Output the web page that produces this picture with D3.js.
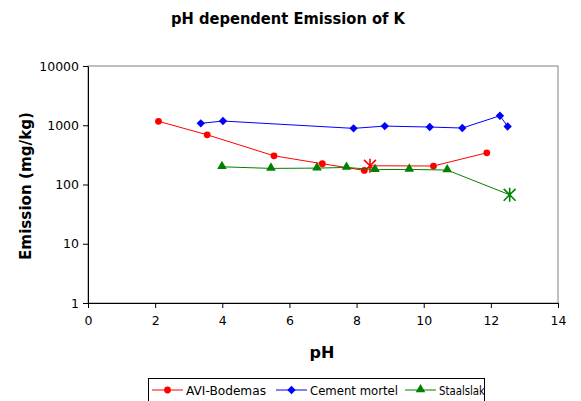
<!DOCTYPE html>
<html>
<head>
<meta charset="utf-8">
<script src="https://cdn.jsdelivr.net/npm/d3@7"></script>
<style>
  body { margin: 0; background: #fff; }
  svg { display: block; font-family: "DejaVu Sans", Verdana, sans-serif; }
</style>
</head>
<body>
<svg id="chart" width="581" height="401"></svg>
<script>
// values
var aviPH = [2.1, 3.55, 5.54, 6.98, 8.23, 8.4, 10.29, 11.88];
var aviEm = [1164, 690, 305, 224, 173, 207, 205, 343];
var cemPH = [3.36, 4.02, 7.91, 8.84, 10.18, 11.15, 12.27, 12.5];
var cemEm = [1077, 1178, 886, 968, 933, 898, 1446, 955];
var staPH = [3.99, 5.45, 6.82, 7.7, 8.55, 9.57, 10.7, 12.56];
var staEm = [199, 187, 189, 194, 178, 180, 175, 67];
// index of the point drawn with an asterisk marker
var aviStar = 5;
var staStar = 7;

var xTicks = [0, 2, 4, 6, 8, 10, 12, 14];
var yTicks = [1, 10, 100, 1000, 10000];

var series = [
  { name: 'AVI-Bodemas', colour: '#ff0000', marker: 'circle', x: aviPH, y: aviEm, star: aviStar },
  { name: 'Cement mortel', colour: '#0000ff', marker: 'diamond', x: cemPH, y: cemEm, star: -1 },
  { name: 'Staalslak', colour: '#008000', marker: 'triangle', x: staPH, y: staEm, star: staStar }
];

var svg = d3.select('#chart');

var plotL = 88, plotR = 558, plotT = 66, plotB = 303;

var x = d3.scaleLinear().domain([0, 14]).range([plotL, plotR]);
var y = d3.scaleLog().domain([1, 10000]).range([plotB, plotT]);

// title
svg.append('text')
  .attr('x', 288)
  .attr('y', 23.5)
  .attr('text-anchor', 'middle')
  .attr('textLength', 234)
  .attr('lengthAdjust', 'spacingAndGlyphs')
  .style('font-size', '15px')
  .style('font-weight', 'bold')
  .text('pH dependent Emission of K');

// plot area border (grey top and right)
svg.append('rect')
  .attr('x', plotL)
  .attr('y', plotT)
  .attr('width', plotR - plotL)
  .attr('height', plotB - plotT)
  .style('fill', 'none')
  .style('stroke', '#808080')
  .style('stroke-width', 1);

var xAxis = svg.append('g')
  .attr('transform', 'translate(0,' + plotB + ')')
  .call(d3.axisBottom(x).tickValues(xTicks).tickSize(5).tickSizeOuter(0).tickPadding(8));

var yAxis = svg.append('g')
  .attr('transform', 'translate(' + plotL + ',0)')
  .call(d3.axisLeft(y).tickValues(yTicks).tickFormat(d3.format('d')).tickSize(5).tickSizeOuter(0).tickPadding(4));

[xAxis, yAxis].forEach(function(a) {
  a.selectAll('text').style('font-size', '12.5px').style('font-family', '"DejaVu Sans", Verdana, sans-serif').style('fill', '#000');
  a.selectAll('line').style('stroke', '#000');
  a.select('.domain').style('stroke', '#000');
});

// axis titles
svg.append('text')
  .attr('x', 322)
  .attr('y', 358)
  .attr('text-anchor', 'middle')
  .style('font-size', '16px')
  .style('font-weight', 'bold')
  .text('pH');

svg.append('text')
  .attr('transform', 'translate(31,186) rotate(-90)')
  .attr('text-anchor', 'middle')
  .attr('textLength', 148)
  .attr('lengthAdjust', 'spacingAndGlyphs')
  .style('font-size', '15.5px')
  .style('font-weight', 'bold')
  .text('Emission (mg/kg)');

var line = d3.line()
  .x(function(d) { return x(d[0]); })
  .y(function(d) { return y(d[1]); });

function drawMarker(g, type, cx, cy, colour) {
  if (type === 'circle') {
    g.append('circle').attr('cx', cx).attr('cy', cy).attr('r', 3.4).style('fill', colour);
  } else if (type === 'diamond') {
    var h = 4.2;
    g.append('path')
      .attr('d', 'M' + cx + ',' + (cy - h) + 'L' + (cx + h) + ',' + cy + 'L' + cx + ',' + (cy + h) + 'L' + (cx - h) + ',' + cy + 'Z')
      .style('fill', colour);
  } else if (type === 'triangle') {
    g.append('path').attr('d', d3.symbol().type(d3.symbolTriangle).size(40)())
      .attr('transform', 'translate(' + cx + ',' + (cy - 0.5) + ')').style('fill', colour);
  } else if (type === 'star') {
    var r = 7;
    var s = r * 0.85;
    g.append('path')
      .attr('d', 'M' + (cx - s) + ',' + (cy - s) + 'L' + (cx + s) + ',' + (cy + s) +
        'M' + (cx + s) + ',' + (cy - s) + 'L' + (cx - s) + ',' + (cy + s) +
        'M' + cx + ',' + (cy - r) + 'L' + cx + ',' + (cy + r))
      .style('stroke', colour)
      .style('stroke-width', 1.6)
      .style('fill', 'none');
  }
}

series.forEach(function(s) {
  var pts = s.x.map(function(v, i) { return [v, s.y[i]]; });
  var g = svg.append('g');
  g.append('path')
    .attr('d', line(pts))
    .style('fill', 'none')
    .style('stroke', s.colour)
    .style('stroke-width', 1);
  pts.forEach(function(p, i) {
    drawMarker(g, i === s.star ? 'star' : s.marker, x(p[0]), y(p[1]), s.colour);
  });
});

// legend
var legend = svg.append('g');
legend.append('rect')
  .attr('x', 148.5)
  .attr('y', 378.5)
  .attr('width', 336)
  .attr('height', 24)
  .style('fill', '#fff')
  .style('stroke', '#000')
  .style('stroke-width', 1);

var legendX = [152, 276, 405];
var legendW = [80, 88, 46];
series.forEach(function(s, i) {
  var lx = legendX[i], ly = 390;
  legend.append('line')
    .attr('x1', lx).attr('x2', lx + 31)
    .attr('y1', ly).attr('y2', ly)
    .style('stroke', s.colour)
    .style('stroke-width', 1);
  drawMarker(legend, s.marker, lx + 15.5, ly, s.colour);
  legend.append('text')
    .attr('x', lx + 34)
    .attr('y', ly + 4.5)
    .attr('textLength', legendW[i])
    .attr('lengthAdjust', 'spacingAndGlyphs')
    .style('font-size', '12px')
    .text(s.name);
});
</script>
</body>
</html>
